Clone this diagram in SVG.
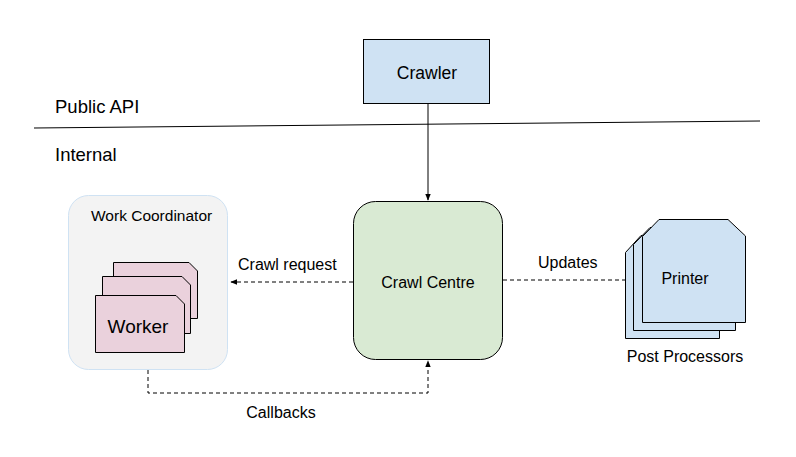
<svg xmlns="http://www.w3.org/2000/svg" width="796" height="457" viewBox="0 0 796 457">
<defs>
<style>
text{font-family:"Liberation Sans",Arial,sans-serif;fill:#000}
.lbl{font-size:16px}
.box{stroke:#000;stroke-width:1}
.blue{fill:#cfe2f3}
.pink{fill:#ead1dc}
.conn{fill:none;stroke:#000;stroke-width:1}
.dash{stroke-dasharray:4,3}
</style>
<marker id="ah" viewBox="0 0 10 10" refX="9" refY="5" markerWidth="7" markerHeight="7" orient="auto-start-reverse" markerUnits="userSpaceOnUse">
<path d="M0,1 L10,5 L0,9 Z" fill="#000"/>
</marker>
</defs>
<rect width="796" height="457" fill="#fff"/>
<g id="divider">
<line x1="34" y1="128" x2="760" y2="121" stroke="#000" stroke-width="1"/>
<text x="55" y="113" style="font-size:18.5px">Public API</text>
<text x="55" y="161" style="font-size:18.5px">Internal</text>
</g>
<g id="connectors">
<line class="conn" x1="428" y1="103" x2="428" y2="200" marker-end="url(#ah)"/>
<line class="conn dash" x1="353" y1="282" x2="231" y2="282" marker-end="url(#ah)"/>
<line class="conn dash" x1="503" y1="280" x2="633" y2="280" marker-end="url(#ah)"/>
<path class="conn dash" d="M148,370 V393 H428 V361" marker-end="url(#ah)"/>
<text class="lbl" x="238" y="270">Crawl request</text>
<text class="lbl" x="538" y="268">Updates</text>
<text class="lbl" x="281" y="418" text-anchor="middle">Callbacks</text>
</g>
<g id="crawler">
<rect class="box blue" x="363.5" y="39.5" width="126" height="64"/>
<text x="427" y="79" text-anchor="middle" style="font-size:17.5px">Crawler</text>
</g>
<g id="crawl-centre">
<rect x="353.5" y="201.5" width="149" height="158" rx="22" fill="#d9ead3" stroke="#000" stroke-width="1"/>
<text class="lbl" x="428" y="288" text-anchor="middle">Crawl Centre</text>
</g>
<g id="work-coordinator">
<rect x="68.5" y="195.5" width="159" height="174" rx="20" fill="#f3f3f3" stroke="#cfe2f3" stroke-width="1"/>
<text x="91" y="221" style="font-size:15.5px">Work Coordinator</text>
<g id="workers">
<path class="box pink" d="M113.5,262.5 H189 L197.5,271 V318.5 H113.5 Z"/>
<path class="box pink" d="M102.5,276.5 H182 L190.5,285 V333.5 H102.5 Z"/>
<path class="box pink" d="M95.5,295.5 H176 L184.5,304 V352.5 H95.5 Z"/>
<text x="138" y="333" text-anchor="middle" style="font-size:19px">Worker</text>
</g>
</g>
<g id="post-processors">
<path class="box blue" d="M625.5,252.5 L641,235.5 H703 L719.5,252 V338.5 H625.5 Z"/>
<path class="box blue" d="M633.5,244.5 L650,227.5 H720 L735.5,243 V330.5 H633.5 Z"/>
<path class="box blue" d="M642.5,236.5 L659,219.5 H728 L745.5,236 V322.5 H642.5 Z"/>
<text class="lbl" x="685" y="284" text-anchor="middle">Printer</text>
<text class="lbl" x="685" y="362" text-anchor="middle">Post Processors</text>
</g>
</svg>
